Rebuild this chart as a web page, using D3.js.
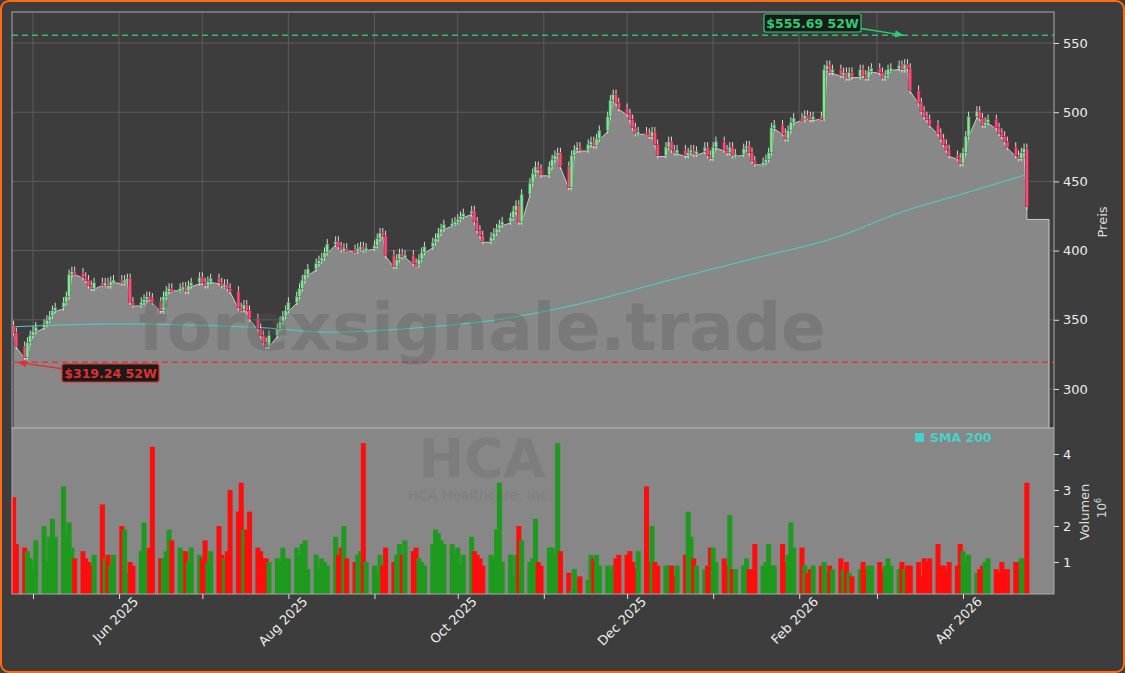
<!DOCTYPE html>
<html>
<head>
<meta charset="utf-8">
<title>HCA</title>
<script src="https://d3js.org/d3.v7.min.js"></script>
<style>
  body{margin:0;background:#3d3d3d;font-family:"DejaVu Sans",sans-serif;}
  .axis path,.axis line{stroke:#ddd;}
  .axis text{fill:#eee;font-size:13px;font-family:"DejaVu Sans",sans-serif;}
</style>
</head>
<body>
<script>
// schlusskurse pro handelstag (24.04.2025 - 24.04.2026)
var closes = [340,330,
 322,333,338,341,344, 346,349,352,356,358, 362,366,382,384,383, 380,378,374,372,376,
 375,376,374,377,378, 376,378,379,362,360, 362,364,366,365,362, 356,366,370,372,371,
 372,373,370,374,376, 380,376,374,377,379, 376,374,375,372,370, 358,357,360,356,350,
 343,338,333,330,338, 343,348,352,356,362, 366,372,378,382,386, 390,392,394,398,404,
 406,402,400,401,400, 399,401,402,400,401, 403,408,412,410,396, 388,393,397,395,396,
 390,389,393,398,402, 405,408,412,415,418, 419,420,422,424,426, 428,420,414,410,406,
 409,412,415,418,420, 423,428,432,420,440, 448,455,460,458,454, 460,465,468,470,460,
 445,468,472,474,472, 476,478,475,480,486, 496,508,512,506,502, 498,494,488,484,485,
 484,482,485,476,468, 474,478,472,470,472, 468,470,472,469,471, 474,468,466,474,478,
 472,470,474,468,469, 473,475,470,464,462, 463,465,470,488,490, 484,480,486,492,495,
 494,497,496,494,496, 495,530,533,528,530, 526,528,524,528,525, 530,526,524,529,531,
 528,524,526,530,531, 533,530,534,531,515, 506,500,496,494,490, 484,480,476,472,468,
 466,462,470,482,496, 500,495,490,492,494, 488,484,482,478,474, 468,466,470,473,431];
// volumen in millionen
var volumes = [2.8,1.5,
 1.4,1.3,1.1,0.8,1.6, 2.0,1.0,1.7,2.2,1.7, 3.1,1.8,2.1,1.4,1.1, 1.3,1.1,1.0,0.9,1.2,
 2.6,1.1,1.2,0.9,1.2, 2.0,1.9,0.7,1.0,0.9, 1.3,2.1,1.3,1.4,4.2, 1.1,1.1,1.3,1.9,1.6,
 1.4,1.3,1.3,1.0,1.4, 1.2,1.1,1.6,1.0,1.3, 2.0,1.2,1.1,1.3,3.0, 2.4,3.2,1.9,1.9,2.4,
 1.4,1.3,1.1,1.1,1.0, 1.1,1.0,1.4,1.1,1.1, 1.4,1.2,1.5,1.6,0.8, 1.2,0.8,1.1,1.0,0.9,
 1.7,1.2,1.4,2.0,1.1, 1.0,1.2,1.3,4.3,1.0, 0.9,0.7,1.2,0.9,1.4, 1.0,1.2,1.5,1.2,1.6,
 1.3,1.4,1.1,1.0,0.9, 1.5,1.9,1.8,1.6,1.5, 1.5,1.2,1.4,0.9,1.2, 1.7,1.3,1.2,1.1,0.9,
 1.2,1.1,1.9,3.2,1.0, 1.2,0.6,1.2,2.0,1.6, 1.0,1.1,2.2,1.0,0.9, 1.4,1.4,1.2,4.3,1.3,
 0.7,0.2,0.8,0.5,0.6, 0.5,1.2,1.1,1.2,0.9, 0.9,0.8,0.9,1.1,1.2, 1.2,1.3,1.0,0.8,1.3,
 3.1,1.0,2.0,1.0,0.9, 0.9,0.9,0.9,0.6,0.9, 1.2,2.4,1.7,1.1,0.9, 0.8,0.9,1.4,1.4,1.0,
 1.1,0.9,2.3,0.8,0.8, 0.9,1.1,0.8,0.8,1.5, 0.9,1.0,1.5,0.9,0.9, 1.5,1.0,1.2,2.1,1.4,
 1.4,0.9,0.7,0.8,0.9, 0.9,1.0,0.7,0.9,0.8, 1.1,0.8,1.0,0.7,0.6, 0.8,1.0,0.8,0.9,0.9,
 1.0,0.8,0.9,1.1,0.9, 0.8,1.0,0.8,0.9,0.9, 1.0,0.6,1.1,1.0,1.1, 1.5,0.9,0.9,0.8,1.0,
 0.9,1.5,1.3,1.0,1.2, 0.7,0.8,0.9,1.0,1.1, 0.8,0.7,1.0,0.8,0.8, 1.0,1.0,1.1,1.1,3.2];
// SMA 200 stuetzstellen
var smaDates = ["2025-04-24","2025-06-01","2025-07-01","2025-07-25","2025-08-15","2025-09-15","2025-10-15","2025-11-15","2025-12-15","2026-01-15","2026-02-15","2026-03-10","2026-04-01","2026-04-24"];
var smaValues = [345,347,346,344,341,344,350,362,378,394,410,428,441,455];
var lastPrice = 422.5;
var high52 = 555.69, low52 = 319.24;
var priceTicks = [300,350,400,450,500,550];
var volTicks = [1,2,3,4];

var W = 1125, H = 673;
var L = 12, R = 1054, pTop = 12, pBot = 428, vBot = 594;
var parse = d3.timeParse("%Y-%m-%d");

// handelstage (werktage)
var days = d3.timeDay.range(parse("2025-04-24"), parse("2026-04-25")).filter(function(d){
  return d.getDay() != 0 && d.getDay() != 6; });
var data = closes.map(function(c,i){
  return {date:days[i], close:c, open: i==0 ? 345 : closes[i-1], vol:volumes[i]}; });

var xs = d3.scaleTime().domain([parse("2025-05-01"), parse("2026-04-01")]).range([33,963]);
var x = d3.scaleTime().domain([xs.invert(L), xs.invert(R)]).range([L,R]);
var y = d3.scaleLinear().domain([300,550]).range([389,43]);
y.domain([y.invert(pBot), y.invert(pTop)]).range([pBot,pTop]);
var yv = d3.scaleLinear().domain([0,4]).range([598,454]);
yv.domain([yv.invert(vBot), yv.invert(pBot)]).range([vBot,pBot]);

var svg = d3.select("body").append("svg").attr("width",W).attr("height",H);
svg.append("rect").attr("x",1).attr("y",1).attr("width",W-2).attr("height",H-2)
  .attr("rx",8).attr("fill","#3d3d3d").attr("stroke","#ff6a13").attr("stroke-width",2);

// preis panel
var clip = svg.append("defs").append("clipPath").attr("id","pc");
clip.append("rect").attr("x",L).attr("y",pTop).attr("width",R-L).attr("height",pBot-pTop);
var gP = svg.append("g").attr("clip-path","url(#pc)");

var months = d3.timeMonth.range(parse("2025-05-01"), parse("2026-05-01"));
gP.selectAll(".vg").data(months).enter().append("line")
  .attr("x1",function(d){return x(d);}).attr("x2",function(d){return x(d);})
  .attr("y1",pTop).attr("y2",pBot).attr("stroke","#5c5c5c").attr("stroke-width",1);
gP.selectAll(".hg").data(priceTicks).enter().append("line")
  .attr("x1",L).attr("x2",R).attr("y1",function(d){return y(d);}).attr("y2",function(d){return y(d);})
  .attr("stroke","#5c5c5c");

var areaPts = data.map(function(d){return [d.date,Math.min(d.open,d.close)];});
var lastD = days[days.length-1];
areaPts.push([lastD,lastPrice]);
areaPts.push([x.invert(R-5),lastPrice]);
var area = d3.area().x(function(d){return x(d[0]);}).y0(pBot).y1(function(d){return y(d[1]);});
gP.append("path").datum(areaPts).attr("d",area).attr("fill","#888");
gP.append("path").datum(areaPts)
  .attr("d",d3.line().x(function(d){return x(d[0]);}).y(function(d){return y(d[1]);}))
  .attr("fill","none").attr("stroke","#c8c8c8").attr("stroke-width",1);
gP.append("line").attr("x1",R-5).attr("x2",R-5).attr("y1",y(lastPrice)).attr("y2",pBot)
  .attr("stroke","#c8c8c8");

// wasserzeichen
svg.append("text").text("forexsignale.trade").attr("x",482).attr("y",350)
  .attr("text-anchor","middle").attr("font-size",66).attr("font-weight","bold")
  .attr("fill","#555").attr("fill-opacity",0.3);

// SMA
var sma = smaDates.map(function(d,i){return [parse(d),smaValues[i]];});
gP.append("path").datum(sma)
  .attr("d",d3.line().curve(d3.curveMonotoneX).x(function(d){return x(d[0]);}).y(function(d){return y(d[1]);}))
  .attr("fill","none").attr("stroke","#48d1cc").attr("stroke-width",1);

// kerzen
var cw = 3;
var candles = gP.selectAll(".c").data(data).enter().append("g");
candles.append("line")
  .attr("x1",function(d){return x(d.date);}).attr("x2",function(d){return x(d.date);})
  .attr("y1",function(d){return y(Math.max(d.open,d.close))-6;})
  .attr("y2",function(d){return y(Math.min(d.open,d.close))+2;})
  .attr("stroke","#d8d8d8").attr("stroke-width",1);
candles.append("rect")
  .attr("x",function(d){return x(d.date)-cw/2;}).attr("width",cw)
  .attr("y",function(d){return y(Math.max(d.open,d.close))-1;})
  .attr("height",function(d){return Math.max(3,Math.abs(y(d.open)-y(d.close)));})
  .attr("fill",function(d){return d.close>=d.open ? "#8fe08f" : "#f0507a";})
  .attr("stroke",function(d){return d.close>=d.open ? "#2e8b57" : "#b0203c";})
  .attr("stroke-width",0.6);

// 52W linien
gP.append("line").attr("x1",L).attr("x2",R).attr("y1",y(high52)).attr("y2",y(high52))
  .attr("stroke","#2ebd6b").attr("stroke-width",1.5).attr("stroke-dasharray","6,4");
gP.append("line").attr("x1",L).attr("x2",R).attr("y1",y(low52)).attr("y2",y(low52))
  .attr("stroke","#d93a3a").attr("stroke-width",1.5).attr("stroke-dasharray","6,4");

var defs = svg.select("defs");
[["ag","#2ecc71"],["ar","#e03030"]].forEach(function(a){
  defs.append("marker").attr("id",a[0]).attr("viewBox","0 0 10 10").attr("refX",9).attr("refY",5)
    .attr("markerWidth",6).attr("markerHeight",6).attr("orient","auto")
    .append("path").attr("d","M0,1L10,5L0,9z").attr("fill",a[1]);
});
function label(txt,bx,by,col,tx,ty,ax,ay,mk){
  svg.append("line").attr("x1",ax).attr("y1",ay).attr("x2",tx).attr("y2",ty)
    .attr("stroke",col).attr("stroke-width",1.5).attr("marker-end","url(#"+mk+")");
  svg.append("rect").attr("x",bx).attr("y",by).attr("width",97).attr("height",18).attr("rx",2)
    .attr("fill","#1a1a1a").attr("stroke",col).attr("stroke-width",1.2);
  svg.append("text").text(txt).attr("x",bx+48.5).attr("y",by+13.5).attr("text-anchor","middle")
    .attr("font-size",12.5).attr("font-weight","bold").attr("fill",col);
}
label("$555.69 52W",764,14,"#2ecc71",903,y(high52),858,28,"ag");
label("$319.24 52W",62,364,"#e03030",18,y(low52),64,369,"ar");

// volumen panel
svg.append("rect").attr("x",L).attr("y",pBot).attr("width",R-L).attr("height",vBot-pBot).attr("fill","#878787");
svg.append("text").text("HCA").attr("x",482).attr("y",477).attr("text-anchor","middle")
  .attr("font-size",54).attr("font-weight","bold").attr("fill","#777").attr("fill-opacity",0.6);
svg.append("text").text("HCA Healthcare, Inc.").attr("x",480).attr("y",500).attr("text-anchor","middle")
  .attr("font-size",14).attr("fill","#7a7a7a").attr("fill-opacity",0.7);
var bw = 5;
svg.selectAll(".v").data(data).enter().append("rect")
  .attr("x",function(d){return x(d.date)-bw/2;}).attr("width",bw)
  .attr("y",function(d){return yv(d.vol);}).attr("height",function(d){return vBot-yv(d.vol);})
  .attr("fill",function(d){return d.close>=d.open ? "#1e9a1e" : "#ff0d0d";});
svg.append("rect").attr("x",915).attr("y",433).attr("width",9).attr("height",9).attr("fill","#48d1cc");
svg.append("text").text("SMA 200").attr("x",930).attr("y",442).attr("font-size",12.5)
  .attr("font-weight","bold").attr("fill","#48d1cc");

// rahmen
svg.append("rect").attr("x",L).attr("y",pTop).attr("width",R-L).attr("height",pBot-pTop)
  .attr("fill","none").attr("stroke","#aaa");
svg.append("rect").attr("x",L).attr("y",pBot).attr("width",R-L).attr("height",vBot-pBot)
  .attr("fill","none").attr("stroke","#aaa");

// achsen
svg.append("g").attr("class","axis").attr("transform","translate("+R+",0)")
  .call(d3.axisRight(y).tickValues(priceTicks).tickSize(5).tickPadding(4))
  .call(function(g){g.select(".domain").remove();});
svg.append("g").attr("class","axis").attr("transform","translate("+R+",0)")
  .call(d3.axisRight(yv).tickValues(volTicks).tickSize(5).tickPadding(4).tickFormat(d3.format("d")))
  .call(function(g){g.select(".domain").remove();});
var xa = svg.append("g").attr("class","axis").attr("transform","translate(0,"+vBot+")")
  .call(d3.axisBottom(x).tickValues(months).tickSize(5)
    .tickFormat(function(d){return d.getMonth()%2==1 ? d3.timeFormat("%b %Y")(d) : "";}));
xa.select(".domain").remove();
xa.selectAll("text").attr("text-anchor","end").attr("dx","0.6em").attr("dy","0.9em")
  .attr("transform","rotate(-45)");

svg.append("text").text("Preis").attr("transform","translate(1107,222) rotate(-90)")
  .attr("text-anchor","middle").attr("font-size",13).attr("fill","#ddd");
svg.append("text").text("Volumen").attr("transform","translate(1089,512) rotate(-90)")
  .attr("text-anchor","middle").attr("font-size",13).attr("fill","#ddd");
var e6 = svg.append("text").attr("transform","translate(1106,508) rotate(-90)")
  .attr("text-anchor","middle").attr("font-size",12).attr("fill","#ddd");
e6.append("tspan").text("10");
e6.append("tspan").text("6").attr("font-size",8).attr("dy",-5);
</script>
</body>
</html>
